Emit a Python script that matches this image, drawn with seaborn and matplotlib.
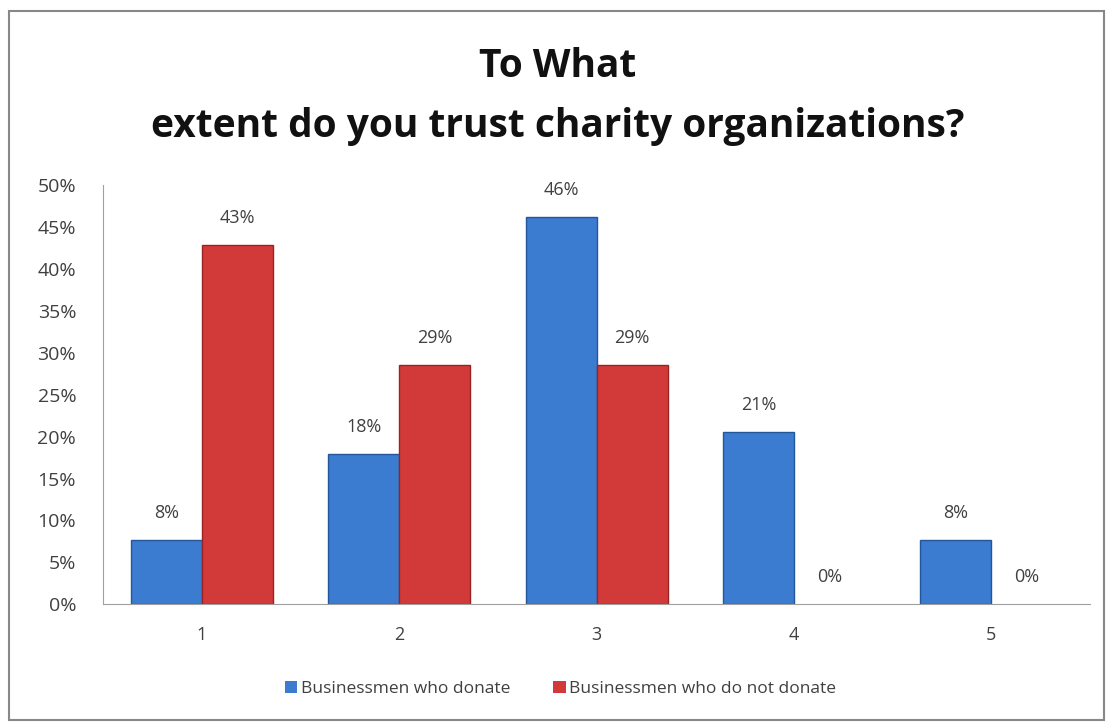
import pandas as pd
import seaborn as sns
import matplotlib.pyplot as plt
from matplotlib.patches import Rectangle

categories = ['1', '2', '3', '4', '5']
donate = [7.7, 17.9, 46.2, 20.6, 7.7]
not_donate = [42.9, 28.6, 28.6, 0.0, 0.0]
series_names = ['Businessmen who donate', 'Businessmen who do not donate']

df = pd.DataFrame({
    'cat': categories * 2,
    'value': donate + not_donate,
    'series': [series_names[0]] * 5 + [series_names[1]] * 5,
})

sns.set_style('white')
plt.rcParams['font.family'] = ['Open Sans', 'DejaVu Sans']

fig = plt.figure(figsize=(11.1, 7.27), dpi=100)
ax = fig.add_axes([0.093, 0.169, 0.889, 0.576])

colors = ['#3b7bd0', '#d23a3a']
sns.barplot(data=df, x='cat', y='value', hue='series', palette=colors,
            width=0.72, saturation=1, ax=ax, legend=False)

for cont, col in zip(ax.containers, ['#24579a', '#9a2222']):
    for bar in cont:
        bar.set_edgecolor(col)
        bar.set_linewidth(1.0 if bar.get_height() > 0 else 0)
    ax.bar_label(cont, labels=[f'{v.get_height():.0f}%' for v in cont],
                 padding=13, fontsize=13, color='#404040')

ax.set_ylim(0, 50)
ax.set_yticks(range(0, 51, 5))
ax.set_yticklabels([f'{t}%' for t in range(0, 51, 5)], fontsize=14, color='#404040')
ax.tick_params(axis='x', labelsize=13, labelcolor='#404040', pad=12)
ax.tick_params(axis='y', pad=16)
ax.set_xlabel('')
ax.set_ylabel('')
for s in ['top', 'right']:
    ax.spines[s].set_visible(False)
for s in ['left', 'bottom']:
    ax.spines[s].set_color('#a0a0a0')

fig.text(0.502, 0.908, 'To What', ha='center', va='center', fontsize=28,
         fontweight='bold', color='#111111')
fig.text(0.502, 0.826, 'extent do you trust charity organizations?', ha='center',
         va='center', fontsize=28, fontweight='bold', color='#111111')

handles = [Rectangle((0, 0), 1, 1, facecolor=c, edgecolor='none') for c in colors]
fig.legend(handles, series_names, loc='center', bbox_to_anchor=(0.505, 0.052),
           ncol=2, frameon=False, fontsize=12.5, handlelength=0.7, handleheight=0.7,
           handletextpad=0.2, columnspacing=2.5, labelcolor='#404040')

fig.patches.append(Rectangle((0.008, 0.01), 0.987, 0.975, transform=fig.transFigure,
                             fill=False, edgecolor='#888888', linewidth=1.5))

plt.savefig('out.png', dpi=100)
